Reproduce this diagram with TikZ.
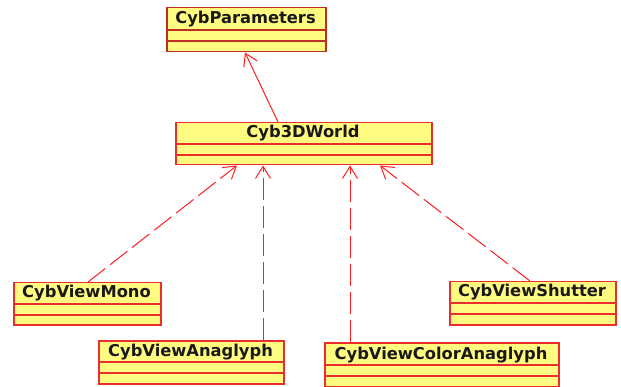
\documentclass[tikz,border=0pt]{standalone}
\usepackage{fontspec}
\setmainfont{DejaVu Sans}
\usetikzlibrary{arrows.meta}
\definecolor{clsfill}{RGB}{255,250,128}
\definecolor{clsedge}{RGB}{235,45,45}
\definecolor{clsedgedark}{RGB}{190,45,35}
\definecolor{linkred}{RGB}{255,30,30}
\tikzset{
  clsbox/.style={draw=clsedge, fill=clsfill, line width=1.5pt, inner sep=0pt, anchor=north west},
  clsdiv/.style={draw=clsedge, line width=1.3pt},
  clstitle/.style={inner sep=0pt, anchor=base, font=\fontsize{16.3}{18}\selectfont\bfseries, text=black!90},
  assoc/.style={draw=linkred, line width=1pt, -{Straight Barb[length=12pt,width=15pt,line width=1pt]}},
  realize/.style={assoc, dash pattern=on 22pt off 6pt},
}
% class box: name, left, top, right, bottom, divider 1, divider 2, title, edge colour
\newcommand\umlclass[9]{%
  \node[clsbox, draw=#9, minimum width={(#4-#2)*1pt}, minimum height={(#5-#3)*1pt}] (#1) at (#2,#3) {};
  \draw[clsdiv, draw=#9] (#2,#6) -- (#4,#6) (#2,#7) -- (#4,#7);
  \node[clstitle] (#1-title) at ({(#2+#4)/2},{#6-6}) {#8};
}
\begin{document}
\begin{tikzpicture}[x=1pt,y=-1pt]
\useasboundingbox (0,0) rectangle (621,387);

\umlclass{params}{166}{7}{325}{51}{30}{41}{CybParameters}{clsedgedark}
\umlclass{world}{175}{122}{431}{164}{144}{155}{Cyb3DWorld}{clsedge}
\umlclass{mono}{13}{282}{160}{324}{304}{315}{CybViewMono}{clsedge}
\umlclass{anaglyph}{98}{340}{283}{383}{362}{373}{CybViewAnaglyph}{clsedge}
\umlclass{shutter}{449}{281}{615}{324}{303}{314}{CybViewShutter}{clsedge}
\umlclass{coloranaglyph}{324}{342}{558}{386}{365}{376}{CybViewColorAnaglyph}{clsedge}

\draw[assoc] (278,0 |- world.north) -- (245,0 |- params.south);
\draw[realize] (88,0 |- mono.north) -- (237,0 |- world.south);
\draw[realize] (263,0 |- anaglyph.north) -- (263,0 |- world.south);
\draw[realize] (350,0 |- coloranaglyph.north) -- (350,0 |- world.south);
\draw[realize] (530,0 |- shutter.north) -- (380,0 |- world.south);
\end{tikzpicture}
\end{document}
